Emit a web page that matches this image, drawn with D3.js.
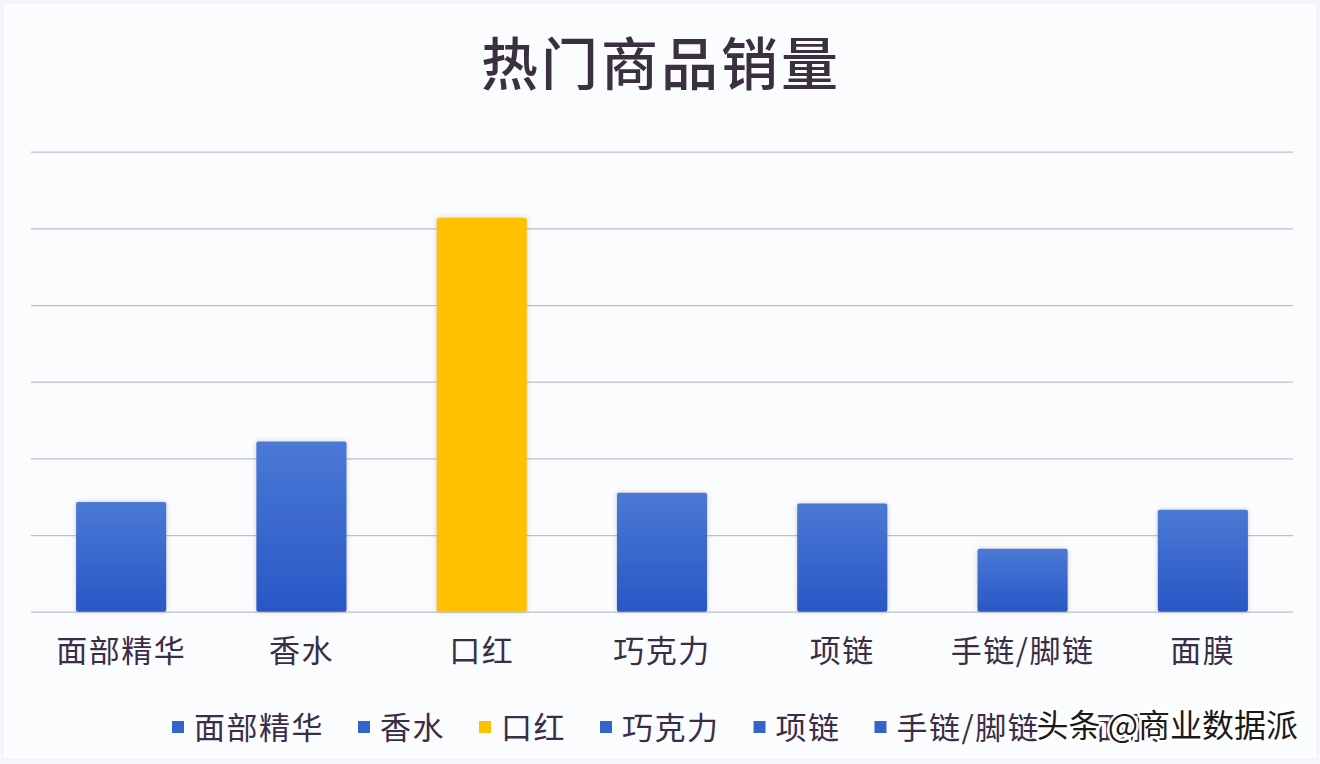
<!DOCTYPE html>
<html>
<head>
<meta charset="utf-8">
<script src="https://cdn.jsdelivr.net/npm/d3@7"></script>
<style>
  html, body { margin: 0; padding: 0; background: #ffffff; }
  svg { display: block; }
</style>
</head>
<body>
<svg id="chart" width="1320" height="764"></svg>
<script>
// ---- data ----
const categories = ["面部精华", "香水", "口红", "巧克力", "项链", "手链/脚链", "面膜"];
const salesValues = [143, 222, 514, 155, 141, 82, 133];
const highlightCategory = "口红";
const yTicks = [0, 100, 200, 300, 400, 500, 600];
const titleText = "热门商品销量";
const watermarkText = "头条 @商业数据派";

// ---- layout ----
const W = 1320, H = 764;
const margin = { left: 31, right: 27, top: 151.7, bottom: 764 - 611.7 };
const FONT = "'Noto Sans CJK SC', 'Noto Sans', sans-serif";
const BLUE = "#3563cc", YELLOW = "#ffc000";

const svg = d3.select("#chart");

// background
svg.append("rect").attr("x", 0).attr("y", 0).attr("width", W).attr("height", H).attr("fill", "#f6f7fa");
svg.append("rect").attr("x", 3).attr("y", 3).attr("width", W - 6).attr("height", H - 8)
  .attr("fill", "#fbfcfe").attr("stroke", "#eef0f4").attr("stroke-width", 1);

const defs = svg.append("defs");
const grad = defs.append("linearGradient").attr("id", "blueGrad")
  .attr("x1", 0).attr("y1", 0).attr("x2", 0).attr("y2", 1);
grad.append("stop").attr("offset", "0%").attr("stop-color", "#4b79d5");
grad.append("stop").attr("offset", "100%").attr("stop-color", "#2857c5");
const shadow = defs.append("filter").attr("id", "shadow")
  .attr("x", "-20%").attr("y", "-20%").attr("width", "140%").attr("height", "140%");
shadow.append("feDropShadow").attr("dx", 0).attr("dy", 0).attr("stdDeviation", 2.5)
  .attr("flood-color", "#7a6a60").attr("flood-opacity", 0.35);

const x = d3.scaleBand()
  .domain(categories)
  .range([margin.left, W - margin.right])
  .paddingInner(0.5)
  .paddingOuter(0.25);

const y = d3.scaleLinear()
  .domain([0, 600])
  .range([H - margin.bottom, margin.top]);

// gridlines via axis
const grid = svg.append("g")
  .attr("transform", `translate(${margin.left},0)`)
  .call(d3.axisLeft(y).tickValues(yTicks).tickSize(-(W - margin.left - margin.right)).tickFormat(""));
grid.select(".domain").remove();
grid.selectAll(".tick line").attr("stroke", "#bcc0c6").attr("stroke-width", 1.3);

// bars
const data = categories.map((c, i) => ({ cat: c, val: salesValues[i] }));
svg.append("g").selectAll("rect")
  .data(data)
  .join("rect")
  .attr("x", d => x(d.cat))
  .attr("y", d => y(d.val))
  .attr("width", x.bandwidth())
  .attr("height", d => y(0) - y(d.val))
  .attr("rx", 2)
  .attr("fill", d => d.cat === highlightCategory ? YELLOW : "url(#blueGrad)")
  .attr("filter", "url(#shadow)");

// x axis labels
const xAxis = svg.append("g")
  .attr("transform", `translate(0,${y(0)})`)
  .call(d3.axisBottom(x).tickSize(0).tickPadding(28));
xAxis.select(".domain").remove();
xAxis.selectAll("text")
  .attr("font-family", FONT)
  .attr("font-size", 31)
  .attr("letter-spacing", 1.5)
  .attr("fill", "#3a2d48");

// title
svg.append("text")
  .attr("x", 661).attr("y", 85)
  .attr("text-anchor", "middle")
  .attr("font-family", FONT)
  .attr("font-size", 57)
  .attr("font-weight", 500)
  .attr("letter-spacing", 3)
  .attr("fill", "#3b303f")
  .text(titleText);

// legend
const legend = svg.append("g").attr("transform", "translate(172,0)");
let cx = 0;
data.forEach(d => {
  const g = legend.append("g").attr("transform", `translate(${cx},0)`);
  g.append("rect").attr("x", 0).attr("y", 721).attr("width", 12).attr("height", 12)
    .attr("fill", d.cat === highlightCategory ? YELLOW : BLUE);
  const t = g.append("text").attr("x", 22).attr("y", 739)
    .attr("font-family", FONT).attr("font-size", 31).attr("letter-spacing", 1.5)
    .attr("fill", "#3a2d48").text(d.cat);
  cx += 22 + t.node().getComputedTextLength() + 34;
});

// watermark (overlays the end of the legend, as in the reference)
svg.append("text")
  .attr("x", 1298).attr("y", 737)
  .attr("text-anchor", "end")
  .attr("font-family", FONT)
  .attr("font-size", 32)
  .attr("fill", "#1a1a1a")
  .attr("stroke", "#ffffff")
  .attr("stroke-width", 5)
  .attr("paint-order", "stroke")
  .text(watermarkText);
</script>
</body>
</html>
